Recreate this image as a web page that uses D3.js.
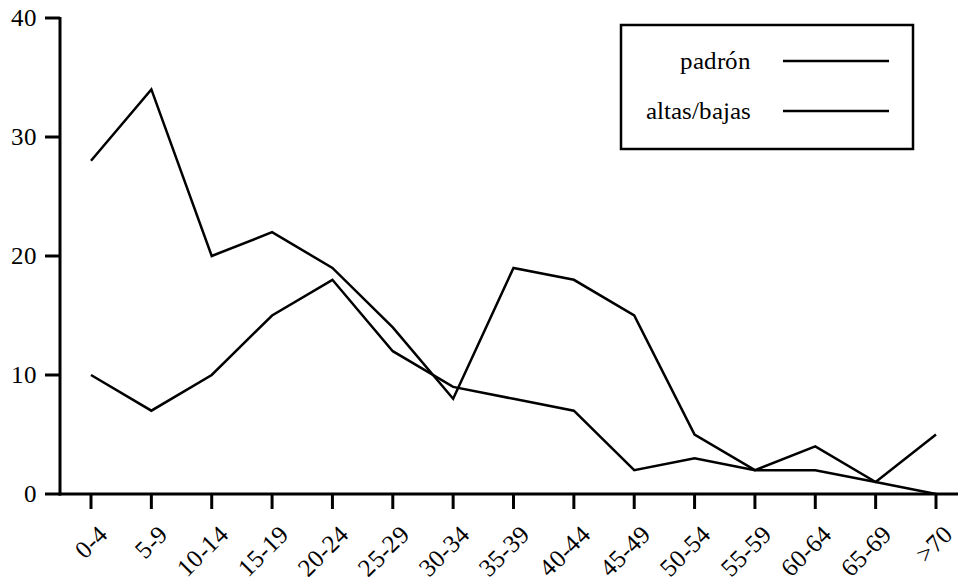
<!DOCTYPE html>
<html>
<head>
<meta charset="utf-8">
<script src="https://cdn.jsdelivr.net/npm/d3@7"></script>
<style>
  @font-face {
    font-family: "ChartSerif";
    src: local("Liberation Serif"), local("LiberationSerif"), local("Tinos"),
         local("Tinos Regular"), local("FreeSerif"), local("Times New Roman");
  }
  body { margin: 0; background: #fff; }
  svg { display: block; }
  svg text { font-family: "ChartSerif", "Liberation Serif", Tinos, FreeSerif, "DejaVu Serif"; }
</style>
</head>
<body>
<svg id="chart" width="958" height="577"></svg>
<script>
// Age groups on the x axis
const ageGroups = ["0-4", "5-9", "10-14", "15-19", "20-24", "25-29", "30-34",
                   "35-39", "40-44", "45-49", "50-54", "55-59", "60-64", "65-69", ">70"];
// Series values per age group
const padron     = [28, 34, 20, 22, 19, 14, 8, 19, 18, 15, 5, 2, 4, 1, 5];
const altasBajas = [10, 7, 10, 15, 18, 12, 9, 8, 7, 2, 3, 2, 2, 1, 0];
const seriesNames = ["padrón", "altas/bajas"];
const yTicks = [0, 10, 20, 30, 40];

const svg = d3.select("#chart");
const W = 958;

const x = d3.scalePoint().domain(ageGroups).range([91, 936]);
const y = d3.scaleLinear().domain([0, 40]).range([494, 18]);

function label(sel) {
  return sel.style("font-size", "25px").attr("fill", "#000");
}

// Axes
const axisW = 3;
svg.append("line")
  .attr("x1", 60).attr("x2", 60)
  .attr("y1", y(40) - 1).attr("y2", y(0) + 1.5)
  .attr("stroke", "#000").attr("stroke-width", axisW);
svg.append("line")
  .attr("x1", 58.5).attr("x2", W)
  .attr("y1", y(0)).attr("y2", y(0))
  .attr("stroke", "#000").attr("stroke-width", axisW);

// Y ticks
const yt = svg.append("g");
yTicks.forEach(v => {
  yt.append("line")
    .attr("x1", 45).attr("x2", 60)
    .attr("y1", y(v)).attr("y2", y(v))
    .attr("stroke", "#000").attr("stroke-width", axisW);
  label(yt.append("text"))
    .attr("x", 37).attr("y", y(v) + 8)
    .attr("text-anchor", "end")
    .text(v);
});

// X ticks and rotated labels
const xt = svg.append("g");
ageGroups.forEach(g => {
  const px = x(g);
  xt.append("line")
    .attr("x1", px).attr("x2", px)
    .attr("y1", y(0)).attr("y2", y(0) + 15)
    .attr("stroke", "#000").attr("stroke-width", axisW);
  label(xt.append("text"))
    .attr("transform", `translate(${px + 18},${y(0) + 42}) rotate(-45)`)
    .attr("text-anchor", "end")
    .text(g);
});

// Lines
const line = d3.line()
  .x((d, i) => x(ageGroups[i]))
  .y(d => y(d));

[padron, altasBajas].forEach(s => {
  svg.append("path")
    .datum(s)
    .attr("d", line)
    .attr("fill", "none")
    .attr("stroke", "#000")
    .attr("stroke-width", 2.5)
    .attr("stroke-linejoin", "miter");
});

// Legend
const lg = svg.append("g");
lg.append("rect")
  .attr("x", 621).attr("y", 25)
  .attr("width", 292).attr("height", 124)
  .attr("fill", "#fff")
  .attr("stroke", "#000").attr("stroke-width", 2.5);
seriesNames.forEach((name, i) => {
  const cy = 61 + i * 50;
  label(lg.append("text"))
    .attr("x", 751).attr("y", cy + 8)
    .attr("text-anchor", "end")
    .text(name);
  lg.append("line")
    .attr("x1", 783).attr("x2", 889)
    .attr("y1", cy).attr("y2", cy)
    .attr("stroke", "#000").attr("stroke-width", 2.5);
});
</script>
</body>
</html>
